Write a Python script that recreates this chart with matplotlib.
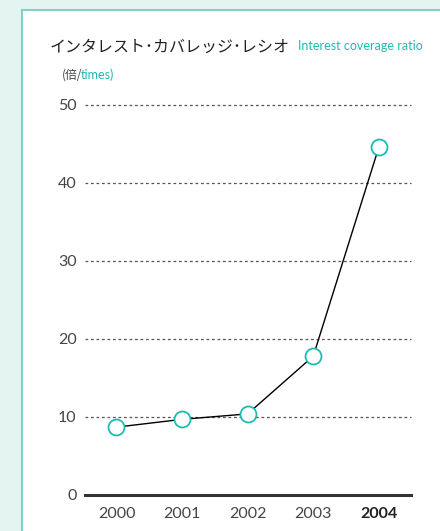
import matplotlib.pyplot as plt
from matplotlib.patches import Rectangle

years = ["2000", "2001", "2002", "2003", "2004"]
ratio = [8.7, 9.7, 10.4, 17.8, 44.6]
yticks = [0, 10, 20, 30, 40, 50]

latin = "Lato"
jp = "Noto Sans CJK JP"
teal = "#1cbcb2"
grey = "#444444"

fig = plt.figure(figsize=(4.4, 5.31), dpi=100)
fig.patch.set_facecolor("#e4f4f0")

# white panel behind the chart
bg = fig.add_axes([0, 0, 1, 1], zorder=-1)
bg.set_axis_off()
bg.set_xlim(0, 440)
bg.set_ylim(531, 0)
bg.add_patch(Rectangle((22, 9.5), 440, 540, facecolor="white",
                       edgecolor="#80d2c8", linewidth=1.5))

ax = fig.add_axes([85 / 440, 1 - 495 / 531, 326 / 440, 390 / 531])
ax.set_facecolor("none")
x = list(range(len(years)))
ax.plot(x, ratio, color="black", lw=1.0, zorder=3)
ax.plot(x, ratio, "o", ms=11.5, mfc="white", mec=teal, mew=1.3, zorder=4)

ax.set_xlim(-0.48, 4.49)
ax.set_ylim(0, 50)
ax.set_yticks(yticks)
for t in yticks[1:]:
    ax.axhline(t, color="#555555", lw=0.9, ls=(0, (2.2, 2.2)), zorder=1,
               clip_on=False)
ax.axhline(0, color="#333333", lw=2.2, zorder=2, clip_on=False)
for s in ax.spines.values():
    s.set_visible(False)
ax.tick_params(length=0, labelsize=11.5, labelcolor=grey, pad=6)
ax.set_xticks(x)
ax.set_xticklabels(years)
for lab in ax.get_yticklabels() + ax.get_xticklabels():
    lab.set_fontfamily(latin)
ax.get_xticklabels()[-1].set_fontweight("bold")
ax.get_xticklabels()[-1].set_color("#222222")
ax.tick_params(axis="x", pad=9)

fig.text(50 / 440, 1 - 47 / 531, "インタレスト･カバレッジ･レシオ", family=[jp, "DejaVu Sans"],
         fontsize=11.5, color="#222222", va="center")
fig.text(298 / 440, 1 - 46 / 531, "Interest coverage ratio", family=latin,
         fontsize=9, color=teal, va="center")
fig.text(62 / 440, 1 - 75 / 531, "(倍/", family=[jp, "DejaVu Sans"],
         fontsize=8.5, color=grey, va="center")
fig.text(81 / 440, 1 - 75 / 531, "times)", family=latin, fontsize=9,
         color=teal, va="center")

fig.savefig("out.png", dpi=100, facecolor=fig.get_facecolor())
